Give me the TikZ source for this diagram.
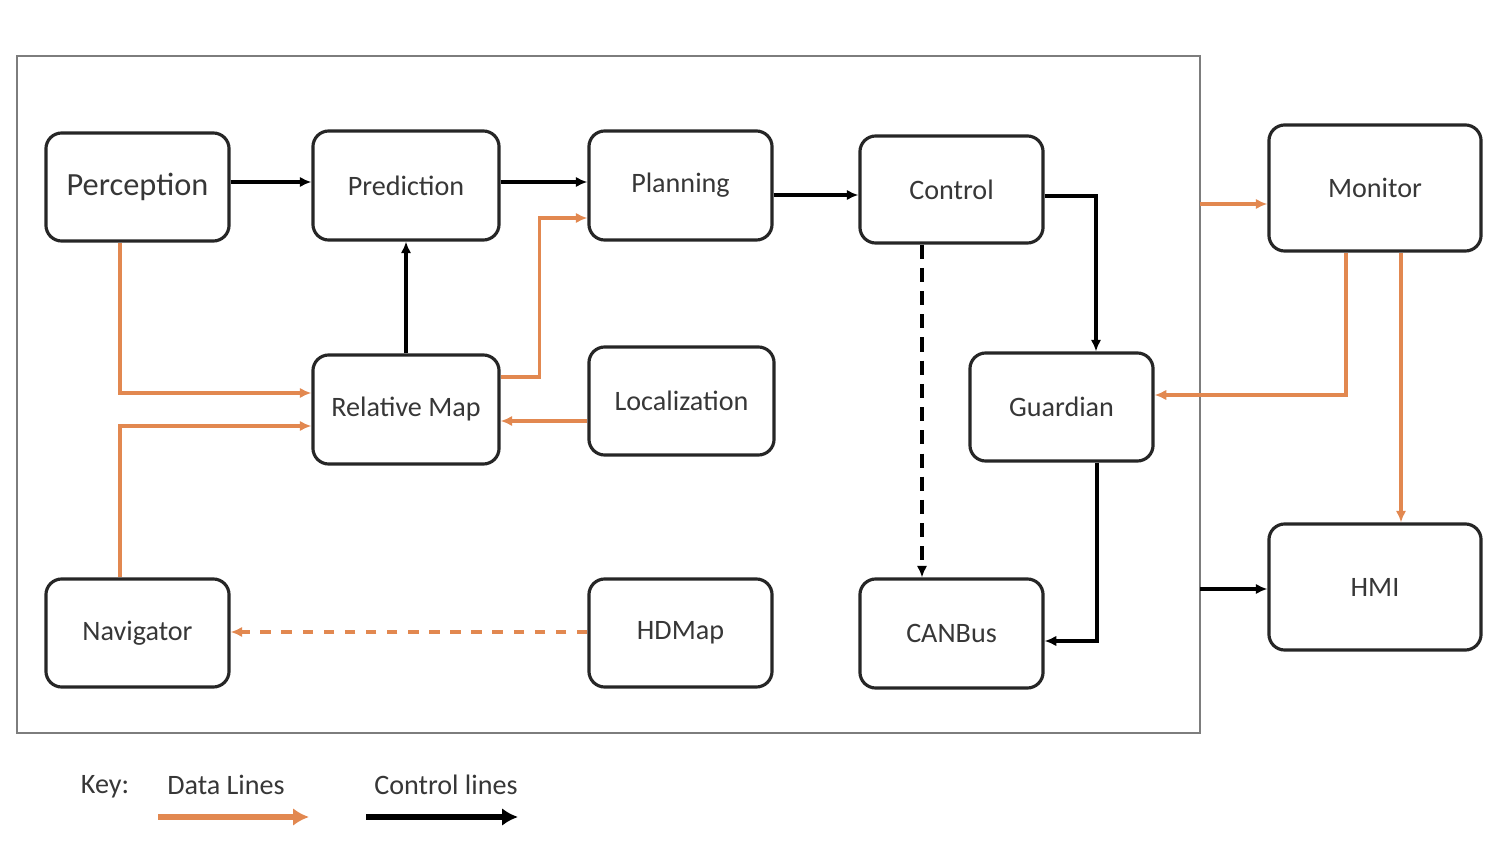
\documentclass[tikz,border=0pt]{standalone}
\usepackage{fontspec}
\setmainfont{Carlito}
\usetikzlibrary{arrows.meta,calc}
\definecolor{dataor}{RGB}{226,136,80}
\definecolor{framegray}{RGB}{125,125,125}
\definecolor{txtgray}{RGB}{55,55,55}
\begin{document}
\begin{tikzpicture}[x=0.01cm,y=-0.01cm,
  mod/.style={draw=black!85, line width=0.9pt, rounded corners=4.5pt,
    minimum width=1.83cm, minimum height=1.08cm, inner sep=0pt,
    text=txtgray, font=\fontsize{8pt}{9.6pt}\selectfont},
  bigmod/.style={mod, minimum width=2.12cm, minimum height=1.26cm},
  ctl/.style={draw=black, line width=1.05pt, -{Latex[length=3.3pt,width=3pt]}},
  dat/.style={draw=dataor, line width=1.05pt, -{Latex[length=3.3pt,width=3pt]}},
  lbl/.style={text=txtgray, font=\fontsize{8pt}{9.6pt}\selectfont, inner sep=0pt}
]
\useasboundingbox (0,0) rectangle (1506,858);
\draw[framegray, line width=0.8pt] (17,56) rectangle (1200,733);

\node[mod, font=\fontsize{9.2pt}{11pt}\selectfont] (perc) at (137.5,187) {Perception};
\node[mod, minimum width=1.86cm, minimum height=1.09cm] (pred) at (406,185.5) {Prediction};
\node[mod, minimum height=1.09cm] (plan) at (680.5,185.5) {Planning};
\node[mod, minimum height=1.07cm] (ctrl) at (951.5,189.5) {Control};
\node[bigmod] (mon) at (1375,188) {Monitor};
\node[mod, minimum width=1.86cm, minimum height=1.09cm] (rmap) at (406,409.5) {Relative Map};
\node[mod, minimum width=1.85cm] (loc) at (681.5,401) {Localization};
\node[mod] (guard) at (1061.5,407) {Guardian};
\node[mod] (nav) at (137.5,633) {Navigator};
\node[mod] (hdm) at (680.5,633) {HDMap};
\node[mod, minimum height=1.09cm] (can) at (951.5,633.5) {CANBus};
\node[bigmod] (hmi) at (1375,587) {HMI};

\coordinate (fm) at (1200,204);
\coordinate (fh) at (1200,589);

% control lines
\draw[ctl] ($(perc.east)+(0,-5)$) -- ($(pred.west)+(0,-3.5)$);
\draw[ctl] ($(pred.east)+(0,-3.5)$) -- ($(plan.west)+(0,-3.5)$);
\draw[ctl] ($(plan.east)+(0,9.5)$) -- ($(ctrl.west)+(0,5.5)$);
\draw[ctl] ($(ctrl.east)+(0,6.5)$) -| ($(guard.north)+(34.5,0)$);
\draw[ctl, line width=1.3pt, dash pattern=on 4pt off 2.6pt] ($(ctrl.south)+(-29.5,0)$) -- ($(can.north)+(-29.5,0)$);
\draw[ctl] ($(guard.south)+(35.5,0)$) |- ($(can.east)+(0,7.5)$);
\draw[ctl] (rmap.north) -- (pred.south);
\draw[ctl, line width=1.3pt] (fh) -- ($(hmi.west)+(0,2)$);

% data lines
\draw[dat] ($(perc.south)+(-17.5,0)$) |- ($(rmap.west)+(0,-16.5)$);
\draw[dat] ($(nav.north)+(-17.5,0)$) |- ($(rmap.west)+(0,16.5)$);
\draw[dat] ($(loc.west)+(0,20)$) -- ($(rmap.east)+(0,11.5)$);
\draw[dat] ($(rmap.east)+(0,-32.5)$) -- ++(39,0) |- ($(plan.west)+(0,32.5)$);
\draw[dat, line width=1.2pt, dash pattern=on 3pt off 3pt] ($(hdm.west)+(0,-1)$) -- ($(nav.east)+(0,-1)$);
\draw[dat, line width=1.3pt] (fm) -- ($(mon.west)+(0,16)$);
\draw[dat, line width=1.3pt] ($(mon.south)+(-29,0)$) |- ($(guard.east)+(0,-12)$);
\draw[dat, line width=1.3pt] ($(mon.south)+(26,0)$) -- ($(hmi.north)+(26,0)$);

% key
\node[lbl] (key) at (105,787) {Key:};
\node[lbl] (kdata) at (226,785) {Data Lines};
\node[lbl] (kctl) at (446,785) {Control lines};
\coordinate (d1) at (158,817);
\coordinate (d2) at (309,817);
\coordinate (c1) at (366,817);
\coordinate (c2) at (518,817);
\draw[draw=dataor, line width=1.6pt, -{Latex[length=4.5pt,width=5pt]}] (d1) -- (d2);
\draw[draw=black, line width=1.6pt, -{Latex[length=4.5pt,width=5pt]}] (c1) -- (c2);
\end{tikzpicture}
\end{document}
